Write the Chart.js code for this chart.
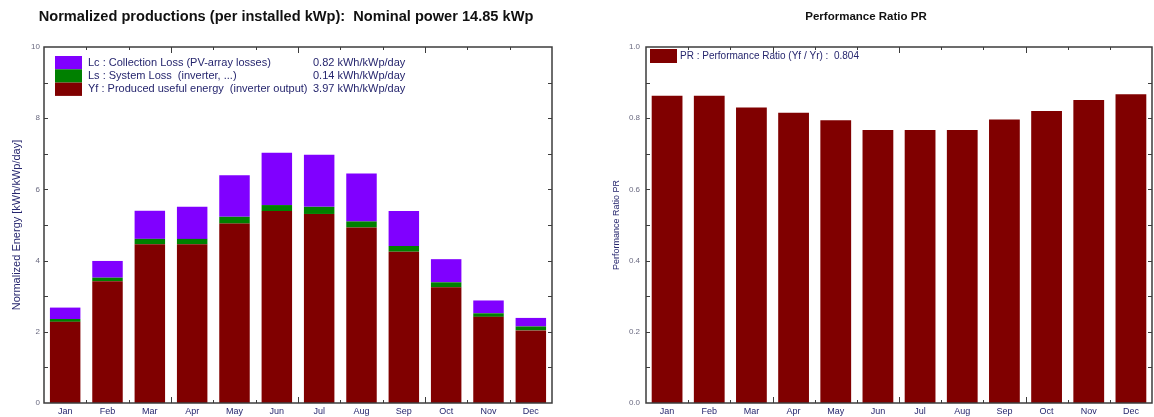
<!DOCTYPE html>
<html>
<head>
<meta charset="utf-8">
<script src="https://cdn.jsdelivr.net/npm/chart.js@4/dist/chart.umd.min.js"></script>
<style>
  body { margin: 0; background: #fff; width: 1154px; height: 417px; overflow: hidden; position: relative; }
  canvas { position: absolute; top: 0; }
  #prodChart { left: 0; }
  #prChart { left: 580px; }
</style>
</head>
<body>
<canvas id="prodChart" width="573" height="417"></canvas>
<canvas id="prChart" width="574" height="417"></canvas>
<script>
// months
const months = ['Jan', 'Feb', 'Mar', 'Apr', 'May', 'Jun', 'Jul', 'Aug', 'Sep', 'Oct', 'Nov', 'Dec'];

// normalized productions, kWh/kWp/day (stacked)
const yfValues = [2.28, 3.42, 4.46, 4.46, 5.04, 5.39, 5.31, 4.93, 4.25, 3.25, 2.42, 2.04];
const lsValues = [0.08, 0.10, 0.15, 0.15, 0.19, 0.17, 0.20, 0.17, 0.16, 0.14, 0.10, 0.11];
const lcValues = [0.32, 0.47, 0.79, 0.90, 1.17, 1.47, 1.46, 1.35, 0.98, 0.65, 0.36, 0.24];

// performance ratio
const prValues = [0.863, 0.863, 0.830, 0.815, 0.794, 0.767, 0.767, 0.767, 0.796, 0.820, 0.851, 0.867];

// legend texts
const prodLegendLabels = [
  'Lc : Collection Loss (PV-array losses)',
  'Ls : System Loss  (inverter, ...)',
  'Yf : Produced useful energy  (inverter output)',
];
const prodLegendValues = ['0.82 kWh/kWp/day', '0.14 kWh/kWp/day', '3.97 kWh/kWp/day'];
const prLegendLabels = ['PR : Performance Ratio (Yf / Yr) :  0.804'];

const PURPLE = '#8000ff';
const GREEN = '#008000';
const RED = '#800000';
const TEXT = '#26266e';
const TICK = '#6a6a80';

// рамка и внутренние риски
const frameTicks = {
  id: 'frameTicks',
  afterDraw(chart, args, opts) {
    const { ctx, chartArea: a, scales: { x, y } } = chart;
    ctx.save();
    ctx.strokeStyle = '#3c3c3c';
    ctx.lineWidth = 1.5;
    ctx.strokeRect(a.left, a.top, a.right - a.left, a.bottom - a.top);
    ctx.lineWidth = 1;
    ctx.beginPath();
    for (let i = 1; i < x.ticks.length; i++) {
      const px = Math.round((x.getPixelForValue(i - 1) + x.getPixelForValue(i)) / 2) + 0.5;
      const len = i % 3 === 0 ? 6 : 3;
      ctx.moveTo(px, a.top); ctx.lineTo(px, a.top + len);
      ctx.moveTo(px, a.bottom); ctx.lineTo(px, a.bottom - len);
    }
    const n = Math.round((y.max - y.min) / opts.minor);
    for (let i = 1; i < n; i++) {
      const py = Math.round(y.getPixelForValue(y.min + i * opts.minor)) + 0.5;
      ctx.moveTo(a.left, py); ctx.lineTo(a.left + 4, py);
      ctx.moveTo(a.right, py); ctx.lineTo(a.right - 4, py);
    }
    ctx.stroke();
    ctx.restore();
  },
};

// легенда внутри области графика
const boxLegend = {
  id: 'boxLegend',
  afterDraw(chart, args, opts) {
    const { ctx, chartArea: a } = chart;
    ctx.save();
    ctx.font = opts.font;
    ctx.textBaseline = 'middle';
    opts.labels.forEach((label, i) => {
      const top = a.top + opts.top + i * opts.row;
      ctx.fillStyle = opts.colors[i];
      ctx.fillRect(a.left + opts.left, top, 27, opts.row);
      ctx.fillStyle = TEXT;
      ctx.fillText(label, a.left + opts.left + 27 + opts.gap, top + opts.row / 2);
      if (opts.values) {
        ctx.fillText(opts.values[i], a.left + opts.valueX, top + opts.row / 2);
      }
    });
    ctx.restore();
  },
};

function titleOpts(text, size) {
  const lineHeight = size * 1.2;
  return {
    display: true,
    text: text,
    color: '#111',
    font: { family: 'Liberation Sans', size: size, weight: 'bold' },
    padding: { top: 17 - lineHeight / 2, bottom: 47 - 17 - lineHeight / 2 },
  };
}

function xScale() {
  return {
    stacked: true,
    grid: { display: false, drawTicks: false },
    border: { display: false },
    ticks: { color: TEXT, font: { family: 'Liberation Sans', size: 9 }, padding: 3 },
    afterFit: (scale) => { scale.height = 14; },
  };
}

new Chart(document.getElementById('prodChart'), {
  type: 'bar',
  data: {
    labels: months,
    datasets: [
      { label: 'Yf', data: yfValues, backgroundColor: RED },
      { label: 'Ls', data: lsValues, backgroundColor: GREEN },
      { label: 'Lc', data: lcValues, backgroundColor: PURPLE },
    ],
  },
  options: {
    responsive: false,
    animation: false,
    barPercentage: 0.72,
    categoryPercentage: 1,
    // левый отступ 20 сдвигает заголовок к центру как в оригинале
    layout: { padding: { left: 20, right: 21, bottom: 0 } },
    plugins: {
      legend: { display: false },
      tooltip: { enabled: false },
      title: titleOpts('Normalized productions (per installed kWp):  Nominal power 14.85 kWp', 14.6),
      frameTicks: { minor: 1 },
      boxLegend: {
        labels: prodLegendLabels,
        values: prodLegendValues,
        colors: [PURPLE, GREEN, RED],
        font: '11px "Liberation Sans"',
        left: 11, top: 9, row: 13.3, gap: 6, valueX: 269,
      },
    },
    scales: {
      x: xScale(),
      y: {
        stacked: true,
        min: 0,
        max: 10,
        grid: { display: false, drawTicks: false },
        border: { display: false },
        ticks: { stepSize: 2, color: TICK, font: { family: 'Liberation Sans', size: 8 }, padding: 4 },
        title: {
          display: true,
          text: 'Normalized Energy [kWh/kWp/day]',
          color: TEXT,
          font: { family: 'Liberation Sans', size: 11 },
          padding: { top: -10, bottom: 0 },
        },
        afterFit: (scale) => { scale.width = 24; },
      },
    },
  },
  plugins: [frameTicks, boxLegend],
});

new Chart(document.getElementById('prChart'), {
  type: 'bar',
  data: {
    labels: months,
    datasets: [{ label: 'PR', data: prValues, backgroundColor: RED }],
  },
  options: {
    responsive: false,
    animation: false,
    barPercentage: 0.73,
    categoryPercentage: 1,
    layout: { padding: { left: 0, right: 2, bottom: 0 } },
    plugins: {
      legend: { display: false },
      tooltip: { enabled: false },
      title: titleOpts('Performance Ratio PR', 11.5),
      frameTicks: { minor: 0.1 },
      boxLegend: {
        labels: prLegendLabels,
        colors: [RED],
        font: '10px "Liberation Sans"',
        left: 4, top: 2, row: 14, gap: 3,
      },
    },
    scales: {
      x: xScale(),
      y: {
        min: 0,
        max: 1,
        grid: { display: false, drawTicks: false },
        border: { display: false },
        ticks: {
          stepSize: 0.2,
          color: TICK,
          font: { family: 'Liberation Sans', size: 8 },
          padding: 6,
          callback: (v) => v.toFixed(1),
        },
        title: {
          display: true,
          text: 'Performance Ratio PR',
          color: TEXT,
          font: { family: 'Liberation Sans', size: 9 },
          padding: { top: 31, bottom: 0 },
        },
        afterFit: (scale) => { scale.width = 66; },
      },
    },
  },
  plugins: [frameTicks, boxLegend],
});
</script>
</body>
</html>
